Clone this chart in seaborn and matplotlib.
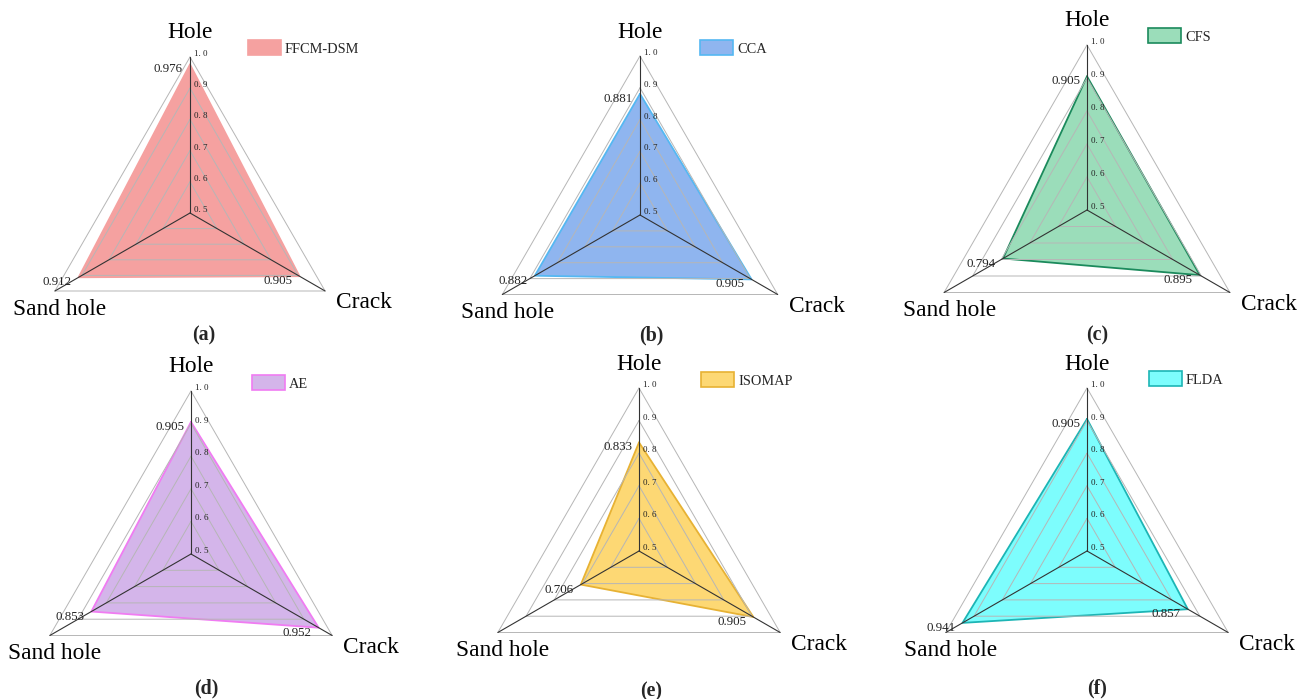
import numpy as np
import matplotlib
matplotlib.use("Agg")
import matplotlib.pyplot as plt
from matplotlib.patches import Patch
import seaborn as sns

# ---- data -------------------------------------------------------------
categories = ["Hole", "Crack", "Sand hole"]
methods = ["FFCM-DSM", "CCA", "CFS", "AE", "ISOMAP", "FLDA"]
panel_tags = ["(a)", "(b)", "(c)", "(d)", "(e)", "(f)"]

ffcm_dsm = [0.976, 0.905, 0.912]
cca = [0.881, 0.905, 0.882]
cfs = [0.905, 0.895, 0.794]
ae = [0.905, 0.952, 0.853]
isomap = [0.833, 0.905, 0.706]
flda = [0.905, 0.857, 0.941]

tick_values = [0.5, 0.6, 0.7, 0.8, 0.9, 1.0]
tick_labels = ["0. 5", "0. 6", "0. 7", "0. 8", "0. 9", "1. 0"]

series = [ffcm_dsm, cca, cfs, ae, isomap, flda]

# ---- styling ----------------------------------------------------------
fill_colors = ["#F5A1A0", "#8FB5EF", "#9BDDBA", "#D4B5EA", "#FDD874", "#7DFDFD"]
edge_colors = ["#F5A1A0", "#55B8F2", "#1B8A5C", "#F07CF2", "#E7B234", "#1DB5B5"]

# panel geometry in pixels: centre x, centre y, outer radius
W, H = 1302, 699
panels = [(190, 213, 156), (640, 215, 159), (1087, 210, 165),
          (191, 554, 163), (639, 551, 163), (1087, 551, 163)]
legend_anchor = [(248, 48), (700, 48), (1148, 36),
                 (252, 383), (701, 380), (1149, 379)]
tag_pos = [(204, 335), (651, 335), (1097, 335),
           (206, 688), (651, 691), (1097, 688)]

sns.set_theme(style="white")
plt.rcParams["font.family"] = ["Liberation Serif", "DejaVu Serif"]

fig = plt.figure(figsize=(W / 100, H / 100), dpi=100)
fig.patch.set_facecolor("white")

theta = np.linspace(0, 2 * np.pi, len(categories), endpoint=False)
theta_closed = np.append(theta, theta[0])

label_offsets = [(0, 24, "center"), (39, -12, "center"), (5, -18, "center")]

for i, vals in enumerate(series):
    cx, cy, R = panels[i]
    ax = fig.add_axes([(cx - R) / W, (H - cy - R) / H, 2 * R / W, 2 * R / H],
                      projection="polar")
    ax.set_theta_offset(np.pi / 2)
    ax.set_theta_direction(-1)
    ax.patch.set_alpha(0)
    ax.spines["polar"].set_visible(False)

    v_closed = list(vals) + [vals[0]]

    # filled polygon and its outline
    ax.fill(theta_closed, v_closed, color=fill_colors[i], lw=0, zorder=1)
    sns.lineplot(x=theta_closed, y=v_closed, sort=False, estimator=None,
                 color=edge_colors[i], lw=1.3, ax=ax, zorder=2)

    # triangular rings
    for lvl in tick_values[1:]:
        ax.plot(theta_closed, [lvl] * len(theta_closed), color="#B6B6B6",
                lw=0.7, zorder=3, clip_on=False)
    # spokes
    for t in theta:
        ax.plot([t, t], [0.5, 1.0], color="#333333", lw=0.8, zorder=4,
                clip_on=False)

    ax.set_ylim(0.5, 1.0)
    ax.set_xticks([])
    ax.set_yticks([])
    ax.grid(False)
    ax.set_xlabel("")
    ax.set_ylabel("")

    # radial tick labels along the Hole spoke
    for tv, tl in zip(tick_values, tick_labels):
        ax.annotate(tl, xy=(0, tv), xytext=(4, 3), textcoords="offset pixels",
                    ha="left", va="center", fontsize=6.5, color="#222222",
                    annotation_clip=False, zorder=6)

    # category names at the outer vertices
    for t, name, (dx, dy, ha) in zip(theta, categories, label_offsets):
        ax.annotate(name, xy=(t, 1.0), xytext=(dx, dy), textcoords="offset pixels",
                    ha=ha, va="center", fontsize=16.8, color="black",
                    annotation_clip=False)

    # value labels next to each vertex of the polygon
    for t, v in zip(theta, vals):
        ax.annotate(f"{v:.3f}", xy=(t, v), xytext=(-7, -5),
                    textcoords="offset pixels", ha="right", va="center",
                    fontsize=9.3, color="#222222", annotation_clip=False, zorder=6)

    lx, ly = legend_anchor[i]
    ax.legend(handles=[Patch(facecolor=fill_colors[i], edgecolor=edge_colors[i],
                             lw=1.2, label=methods[i])],
              loc="center left", bbox_to_anchor=(lx / W, 1 - ly / H),
              bbox_transform=fig.transFigure, frameon=False, borderpad=0,
              borderaxespad=0, handlelength=2.26, handleheight=1.16,
              handletextpad=0.3, fontsize=10.4)

    tx, ty = tag_pos[i]
    fig.text(tx / W, 1 - ty / H, panel_tags[i], ha="center", va="center",
             fontsize=14.4, fontweight="bold")

fig.savefig("out.png", dpi=100, facecolor="white")
